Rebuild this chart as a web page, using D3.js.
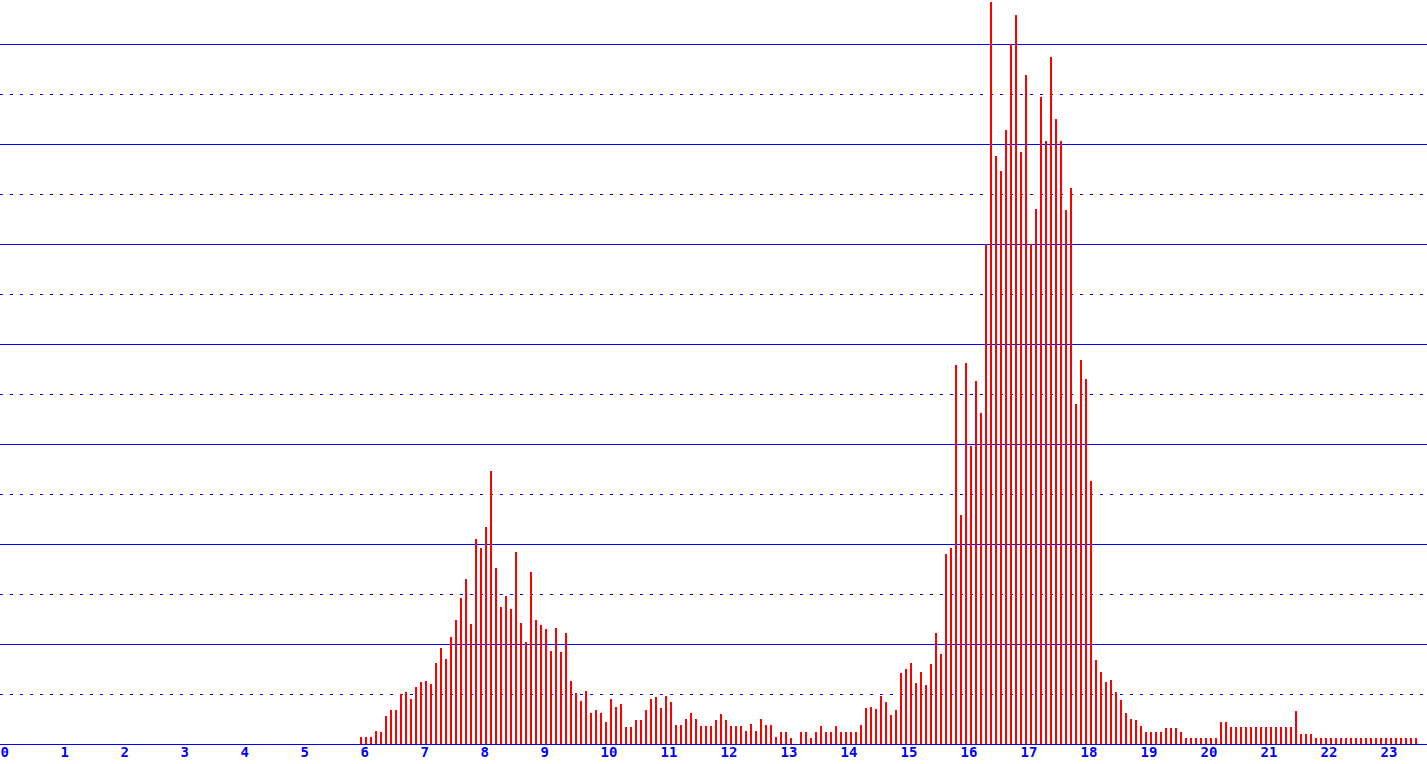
<!DOCTYPE html>
<html>
<head>
<meta charset="utf-8">
<script src="https://cdn.jsdelivr.net/npm/d3@7"></script>
<style>
  body { margin: 0; background: #ffffff; }
  svg { display: block; }
</style>
</head>
<body>
<div id="chart"></div>
<script>
// Series starts at 6:00 and has one bar every 5 minutes
const startHour = 6;
const stepMinutes = 5;

// bar heights, one row per hour (6:00 .. 23:35)
const counts = [
    0.75, 0.75, 0.75, 1.3, 1.2, 2.8, 3.4, 3.4, 5.0, 5.2, 4.5, 5.7,          // 6
    6.2, 6.3, 6.0, 8.1, 9.6, 8.5, 10.7, 12.4, 14.6, 16.5, 12.0, 20.5,       // 7
    19.6, 21.7, 27.3, 17.6, 13.7, 14.8, 13.5, 19.2, 12.1, 10.2, 17.2, 12.4, // 8
    11.9, 11.5, 9.3, 11.6, 9.2, 11.1, 6.3, 5.1, 4.3, 5.3, 3.1, 3.4,         // 9
    3.1, 2.2, 4.5, 3.7, 4.0, 1.7, 1.7, 2.4, 2.4, 3.4, 4.5, 4.7,             // 10
    3.6, 4.8, 4.2, 1.9, 1.9, 2.5, 3.1, 2.5, 1.8, 1.8, 1.8, 2.4,             // 11
    3.0, 2.4, 1.8, 1.8, 1.8, 1.3, 2.0, 1.3, 2.5, 1.9, 1.9, 0.7,             // 12
    1.2, 1.2, 0.6, 0, 1.2, 1.2, 0.6, 1.2, 1.8, 1.2, 1.2, 1.8,               // 13
    1.2, 1.2, 1.2, 1.2, 1.9, 3.6, 3.7, 3.5, 4.8, 4.2, 2.9, 3.4,             // 14
    7.1, 7.5, 8.1, 6.1, 7.2, 5.9, 8.0, 11.1, 9.0, 19.0, 19.6, 37.9,         // 15
    22.9, 38.1, 29.8, 36.3, 33.1, 50.0, 74.2, 58.8, 57.3, 61.4, 70.0, 72.9, // 16
    59.2, 66.9, 50.0, 53.5, 64.7, 60.3, 68.7, 62.5, 60.3, 53.4, 55.6, 34.0, // 17
    38.4, 36.5, 26.3, 8.4, 7.2, 6.2, 6.4, 5.2, 4.4, 3.1, 2.5, 2.4,          // 18
    1.8, 1.2, 1.2, 1.2, 1.2, 1.6, 1.6, 1.6, 1.2, 0.6, 0.6, 0.6,             // 19
    0.6, 0.6, 0.6, 0.6, 2.2, 2.2, 1.7, 1.7, 1.7, 1.7, 1.7, 1.7,             // 20
    1.7, 1.7, 1.7, 1.7, 1.7, 1.7, 1.7, 3.3, 1.0, 1.0, 1.0, 0.6,             // 21
    0.6, 0.6, 0.6, 0.6, 0.6, 0.6, 0.6, 0.6, 0.6, 0.6, 0.6, 0.6,             // 22
    0.6, 0.6, 0.6, 0.6, 0.6, 0.6, 0.6, 0.6                                   // 23
];

// hour tick labels along the bottom
const hourTicks = d3.range(0, 24);

// gridline values: solid every 10, dotted halfway between
const gridValues = d3.range(5, 75, 5);

const data = counts.map((v, i) => ({
    hour: startHour + (i * stepMinutes) / 60,
    value: v
}));

const width = 1427,
      height = 764,
      baseY = 744;

const svg = d3.select("#chart")
              .append("svg")
              .attr("width", width)
              .attr("height", height);

// x in hours, 60px per hour
const x = d3.scaleLinear()
            .domain([0, 24])
            .range([0, 1440]);

// y: 10px per unit
const y = d3.scaleLinear()
            .domain([0, 70])
            .range([baseY, 44]);

// horizontal gridlines
svg.append("g")
   .selectAll("line")
   .data(gridValues)
   .join("line")
   .attr("x1", 0)
   .attr("x2", width)
   .attr("y1", d => y(d) + 0.5)
   .attr("y2", d => y(d) + 0.5)
   .attr("stroke", "#0000ff")
   .attr("stroke-width", 1)
   .attr("shape-rendering", "crispEdges")
   .attr("stroke-dasharray", d => d % 10 === 0 ? null : "3,7");

// bars
svg.append("g")
   .selectAll("rect")
   .data(data)
   .join("rect")
   .attr("x", d => x(d.hour))
   .attr("y", d => y(d.value))
   .attr("width", 2)
   .attr("height", d => baseY - y(d.value))
   .attr("fill", "#ff0000")
   .attr("shape-rendering", "crispEdges");

// baseline
svg.append("line")
   .attr("x1", 0)
   .attr("x2", width)
   .attr("y1", baseY + 0.5)
   .attr("y2", baseY + 0.5)
   .attr("stroke", "#0000ff")
   .attr("shape-rendering", "crispEdges");

// hour labels
const axis = svg.append("g")
                .attr("transform", `translate(0, ${baseY})`)
                .call(d3.axisBottom(x).tickValues(hourTicks).tickSize(0).tickPadding(3).tickFormat(d3.format("d")));

axis.select(".domain").remove();

axis.selectAll("text")
    .attr("x", 0)
    .attr("text-anchor", "start")
    .attr("fill", "#0000ff")
    .style("font-family", "'DejaVu Sans Mono', monospace")
    .style("font-weight", "bold")
    .style("font-size", "14px");
</script>
</body>
</html>
